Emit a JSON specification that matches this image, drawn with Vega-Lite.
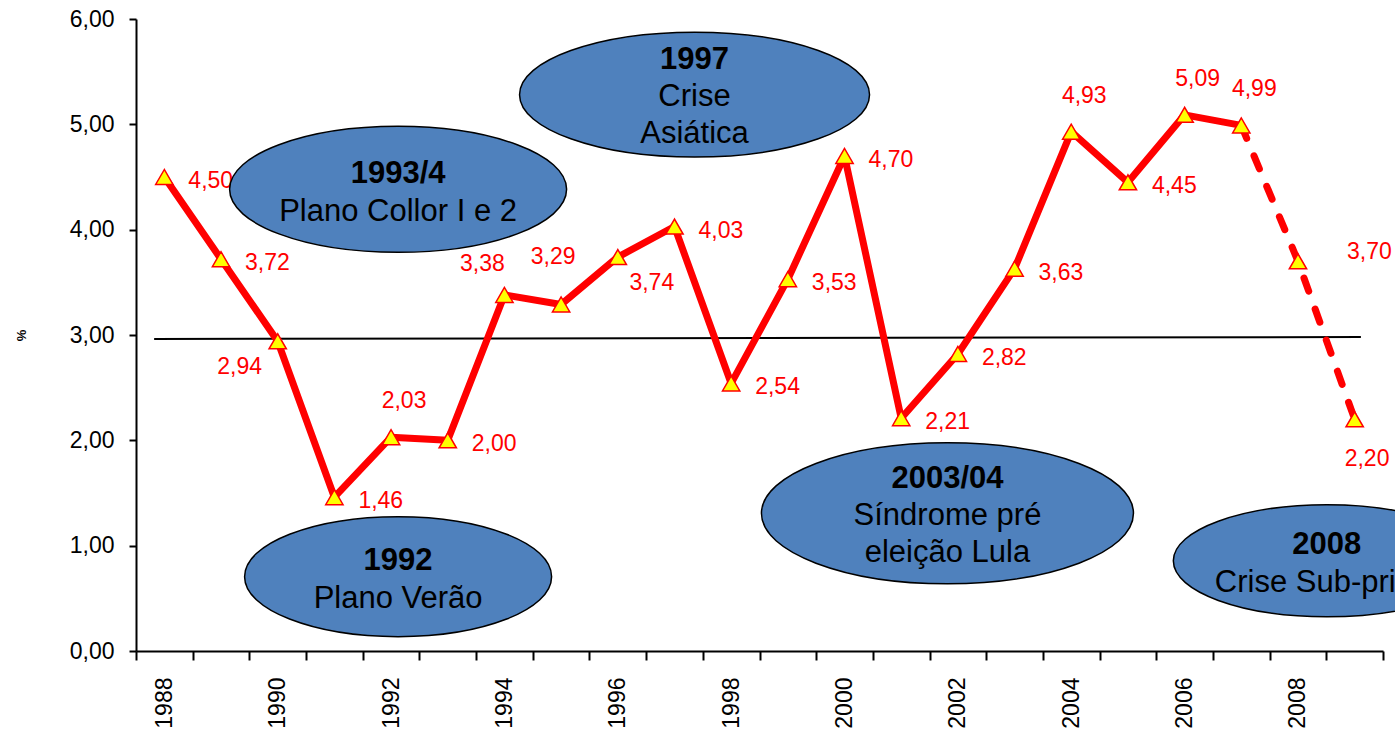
{
  "$schema": "https://vega.github.io/schema/vega-lite/v6.json",
  "width": 1247,
  "height": 632,
  "autosize": {"type": "none"},
  "padding": {"left": 136, "top": 19, "right": 12, "bottom": 89},
  "background": "white",
  "config": {
    "locale": {"number": {"decimal": ",", "thousands": ".", "grouping": [3], "currency": ["R$", ""]}},
    "view": {"stroke": null},
    "font": "Liberation Sans"
  },
  "datasets": {
    "series": [
      {"year": 1988, "value": 4.50},
      {"year": 1989, "value": 3.72},
      {"year": 1990, "value": 2.94},
      {"year": 1991, "value": 1.46},
      {"year": 1992, "value": 2.03},
      {"year": 1993, "value": 2.00},
      {"year": 1994, "value": 3.38},
      {"year": 1995, "value": 3.29},
      {"year": 1996, "value": 3.74},
      {"year": 1997, "value": 4.03},
      {"year": 1998, "value": 2.54},
      {"year": 1999, "value": 3.53},
      {"year": 2000, "value": 4.70},
      {"year": 2001, "value": 2.21},
      {"year": 2002, "value": 2.82},
      {"year": 2003, "value": 3.63},
      {"year": 2004, "value": 4.93},
      {"year": 2005, "value": 4.45},
      {"year": 2006, "value": 5.09},
      {"year": 2007, "value": 4.99},
      {"year": 2008, "value": 3.70},
      {"year": 2009, "value": 2.20}
    ],
    "notes": [
      {"id": "n1", "year": 1992.124, "value": 4.383, "title": "1993/4", "sub": "Plano Collor I e 2"},
      {"id": "n2", "year": 1997.354, "value": 5.282, "title": "1997", "sub": "Crise\nAsiática"},
      {"id": "n3", "year": 1992.124, "value": 0.706, "title": "1992", "sub": "Plano Verão"},
      {"id": "n4", "year": 2001.816, "value": 1.307, "title": "2003/04", "sub": "Síndrome pré\neleição Lula"},
      {"id": "n5", "year": 2008.509, "value": 0.856, "title": "2008", "sub": "Crise Sub-prime"}
    ],
    "ref": [
      {"year": 1987.82, "year_end": 2009.11, "value": 2.962, "value_end": 2.981}
    ]
  },
  "encoding": {
    "x": {
      "field": "year",
      "type": "quantitative",
      "scale": {"domain": [1987.5, 2009.5], "nice": false, "zero": false},
      "axis": {
        "title": null,
        "values": [1987.5, 1988.5, 1989.5, 1990.5, 1991.5, 1992.5, 1993.5, 1994.5, 1995.5, 1996.5, 1997.5, 1998.5, 1999.5, 2000.5, 2001.5, 2002.5, 2003.5, 2004.5, 2005.5, 2006.5, 2007.5, 2008.5, 2009.5],
        "labelExpr": "(datum.value + 0.5) % 2 == 0 && datum.value < 2009 ? format(datum.value + 0.5, 'd') : ''",
        "labelOffset": 28.35,
        "labelAngle": 270,
        "labelAlign": "right",
        "labelBaseline": "middle",
        "labelPadding": 17,
        "labelFontSize": 23,
        "labelFont": "Liberation Sans",
        "labelColor": "#000000",
        "labelOverlap": false,
        "labelFlush": false,
        "labelBound": false,
        "tickSize": 9,
        "tickWidth": 2,
        "tickColor": "#000000",
        "domainColor": "#000000",
        "domainWidth": 2,
        "grid": false
      }
    },
    "y": {
      "field": "value",
      "type": "quantitative",
      "scale": {"domain": [0, 6], "nice": false, "zero": true},
      "axis": {
        "title": "%",
        "titleFont": "Liberation Sans",
        "titleFontSize": 13,
        "titleFontWeight": "bold",
        "titleColor": "#000000",
        "titlePadding": 41,
        "values": [0, 1, 2, 3, 4, 5, 6],
        "format": ".2f",
        "labelFontSize": 23,
        "labelFont": "Liberation Sans",
        "labelColor": "#000000",
        "labelPadding": 15,
        "tickSize": 7,
        "tickWidth": 2,
        "tickColor": "#000000",
        "domainColor": "#000000",
        "domainWidth": 2,
        "grid": false
      }
    }
  },
  "layer": [
    {
      "data": {"name": "ref"},
      "mark": {"type": "rule", "color": "#000000", "strokeWidth": 2},
      "encoding": {
        "x2": {"field": "year_end"},
        "y2": {"field": "value_end"}
      }
    },
    {
      "data": {"name": "series"},
      "transform": [{"filter": "datum.year <= 2007"}],
      "mark": {"type": "line", "color": "#FF0000", "strokeWidth": 7, "strokeJoin": "round", "strokeCap": "round"}
    },
    {
      "data": {"name": "series"},
      "transform": [{"filter": "datum.year >= 2007"}],
      "mark": {"type": "line", "color": "#FF0000", "strokeWidth": 7, "strokeDash": [14, 19], "strokeCap": "round", "strokeJoin": "round"}
    },
    {
      "data": {"name": "series"},
      "mark": {"type": "point", "shape": "triangle-up", "size": 300, "filled": true, "fill": "#FFFF00", "stroke": "#FF0000", "strokeWidth": 1.5, "opacity": 1}
    },
    {
      "data": {"name": "series"},
      "transform": [{"filter": {"field": "year", "oneOf": [1988, 1989, 1991, 1993, 1997, 1998, 1999, 2000, 2001, 2002, 2003, 2005]}}],
      "mark": {"type": "text", "align": "left", "baseline": "middle", "dx": 24, "dy": 4, "fontSize": 23, "color": "#FF0000"},
      "encoding": {"text": {"field": "value", "type": "quantitative", "format": ".2f"}}
    },
    {
      "data": {"name": "series"},
      "transform": [{"filter": {"field": "year", "oneOf": [1992, 2004, 2006, 2007]}}],
      "mark": {"type": "text", "align": "center", "baseline": "middle", "dx": 13, "dy": -36, "fontSize": 23, "color": "#FF0000"},
      "encoding": {"text": {"field": "value", "type": "quantitative", "format": ".2f"}}
    },
    {
      "data": {"name": "series"},
      "transform": [{"filter": {"field": "year", "equal": 1995}}],
      "mark": {"type": "text", "align": "center", "baseline": "middle", "dx": -8, "dy": -47, "fontSize": 23, "color": "#FF0000"},
      "encoding": {"text": {"field": "value", "type": "quantitative", "format": ".2f"}}
    },
    {
      "data": {"name": "series"},
      "transform": [{"filter": {"field": "year", "equal": 1994}}],
      "mark": {"type": "text", "align": "center", "baseline": "middle", "dx": -22, "dy": -31, "fontSize": 23, "color": "#FF0000"},
      "encoding": {"text": {"field": "value", "type": "quantitative", "format": ".2f"}}
    },
    {
      "data": {"name": "series"},
      "transform": [{"filter": {"field": "year", "equal": 1990}}],
      "mark": {"type": "text", "align": "center", "baseline": "middle", "dx": -38, "dy": 26, "fontSize": 23, "color": "#FF0000"},
      "encoding": {"text": {"field": "value", "type": "quantitative", "format": ".2f"}}
    },
    {
      "data": {"name": "series"},
      "transform": [{"filter": {"field": "year", "equal": 1996}}],
      "mark": {"type": "text", "align": "center", "baseline": "middle", "dx": 34, "dy": 26, "fontSize": 23, "color": "#FF0000"},
      "encoding": {"text": {"field": "value", "type": "quantitative", "format": ".2f"}}
    },
    {
      "data": {"name": "series"},
      "transform": [{"filter": {"field": "year", "equal": 2008}}],
      "mark": {"type": "text", "align": "left", "baseline": "middle", "dx": 49, "dy": -9, "fontSize": 23, "color": "#FF0000"},
      "encoding": {"text": {"field": "value", "type": "quantitative", "format": ".2f"}}
    },
    {
      "data": {"name": "series"},
      "transform": [{"filter": {"field": "year", "equal": 2009}}],
      "mark": {"type": "text", "align": "left", "baseline": "middle", "dx": -10, "dy": 40, "fontSize": 23, "color": "#FF0000"},
      "encoding": {"text": {"field": "value", "type": "quantitative", "format": ".2f"}}
    },
    {
      "data": {"name": "notes"},
      "transform": [{"filter": {"field": "id", "equal": "n1"}}],
      "mark": {"type": "point", "shape": "M-1,0C-1,-0.2065 -0.5523,-0.3739 0,-0.3739C0.5523,-0.3739 1,-0.2065 1,0C1,0.2065 0.5523,0.3739 0,0.3739C-0.5523,0.3739 -1,0.2065 -1,0Z", "size": 113569, "filled": true, "fill": "#4F81BD", "stroke": "#000000", "strokeWidth": 1.5, "opacity": 1}
    },
    {
      "data": {"name": "notes"},
      "transform": [{"filter": {"field": "id", "equal": "n2"}}],
      "mark": {"type": "point", "shape": "M-1,0C-1,-0.1972 -0.5523,-0.3571 0,-0.3571C0.5523,-0.3571 1,-0.1972 1,0C1,0.1972 0.5523,0.3571 0,0.3571C-0.5523,0.3571 -1,0.1972 -1,0Z", "size": 122500, "filled": true, "fill": "#4F81BD", "stroke": "#000000", "strokeWidth": 1.5, "opacity": 1}
    },
    {
      "data": {"name": "notes"},
      "transform": [{"filter": {"field": "id", "equal": "n3"}}],
      "mark": {"type": "point", "shape": "M-1,0C-1,-0.2159 -0.5523,-0.3909 0,-0.3909C0.5523,-0.3909 1,-0.2159 1,0C1,0.2159 0.5523,0.3909 0,0.3909C-0.5523,0.3909 -1,0.2159 -1,0Z", "size": 94249, "filled": true, "fill": "#4F81BD", "stroke": "#000000", "strokeWidth": 1.5, "opacity": 1}
    },
    {
      "data": {"name": "notes"},
      "transform": [{"filter": {"field": "id", "equal": "n4"}}],
      "mark": {"type": "point", "shape": "M-1,0C-1,-0.2093 -0.5523,-0.3790 0,-0.3790C0.5523,-0.3790 1,-0.2093 1,0C1,0.2093 0.5523,0.3790 0,0.3790C-0.5523,0.3790 -1,0.2093 -1,0Z", "size": 138384, "filled": true, "fill": "#4F81BD", "stroke": "#000000", "strokeWidth": 1.5, "opacity": 1}
    },
    {
      "data": {"name": "notes"},
      "transform": [{"filter": {"field": "id", "equal": "n5"}}],
      "mark": {"type": "point", "shape": "M-1,0C-1,-0.2015 -0.5523,-0.3648 0,-0.3648C0.5523,-0.3648 1,-0.2015 1,0C1,0.2015 0.5523,0.3648 0,0.3648C-0.5523,0.3648 -1,0.2015 -1,0Z", "size": 94249, "filled": true, "fill": "#4F81BD", "stroke": "#000000", "strokeWidth": 1.5, "opacity": 1}
    },
    {
      "data": {"name": "notes"},
      "transform": [{"filter": {"field": "id", "oneOf": ["n1", "n3", "n5"]}}],
      "mark": {"type": "text", "align": "center", "baseline": "middle", "dy": -15.6, "fontSize": 31, "fontWeight": "bold", "color": "#000000"},
      "encoding": {"text": {"field": "title", "type": "nominal"}}
    },
    {
      "data": {"name": "notes"},
      "transform": [{"filter": {"field": "id", "oneOf": ["n2", "n4"]}}],
      "mark": {"type": "text", "align": "center", "baseline": "middle", "dy": -34.5, "fontSize": 31, "fontWeight": "bold", "color": "#000000"},
      "encoding": {"text": {"field": "title", "type": "nominal"}}
    },
    {
      "data": {"name": "notes"},
      "transform": [{"filter": {"field": "id", "oneOf": ["n1", "n3", "n5"]}}],
      "mark": {"type": "text", "align": "center", "baseline": "middle", "dy": 22.6, "fontSize": 31, "color": "#000000", "lineBreak": "\n"},
      "encoding": {"text": {"field": "sub", "type": "nominal"}}
    },
    {
      "data": {"name": "notes"},
      "transform": [{"filter": {"field": "id", "oneOf": ["n2", "n4"]}}],
      "mark": {"type": "text", "align": "center", "baseline": "middle", "dy": 2.5, "fontSize": 31, "color": "#000000", "lineBreak": "\n", "lineHeight": 37},
      "encoding": {"text": {"field": "sub", "type": "nominal"}}
    }
  ]
}
